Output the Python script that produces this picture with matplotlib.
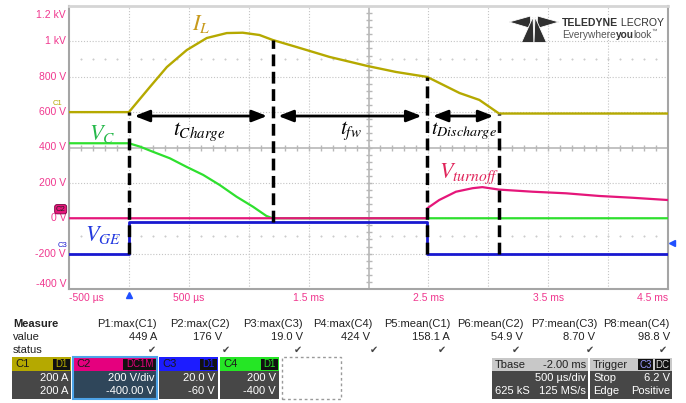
import numpy as np
import matplotlib.pyplot as plt
from matplotlib.patches import Rectangle, Polygon

plt.rcParams['font.family'] = ['Liberation Sans', 'DejaVu Sans']
plt.rcParams['mathtext.fontset'] = 'stix'

W, H = 686, 403

# time in ms, screen units are 200 per division
t_il = [-0.5, 0.0, 0.175, 0.317, 0.483, 0.65, 0.817, 0.95, 1.09, 1.2, 1.4, 1.675,
        1.99, 2.23, 2.49, 2.76, 2.925, 3.09, 4.5]
il_amps = [0, 0, 142, 255, 351, 419, 447, 449, 436, 408, 368, 312,
           261, 227, 199, 108, 69, -8, -8]
IL_ZERO = 600  # C1 offset on screen

t_vc = [-0.5, 0.0, 0.092, 0.2, 0.342, 0.48, 0.62, 0.758, 0.898, 1.036, 1.148, 1.2, 4.5]
vc = [424, 424, 405, 376, 339, 291, 245, 188, 122, 65, 13, 0, 0]

t_vt = [-0.5, 2.49, 2.49, 2.59, 2.73, 2.87, 2.95, 3.09, 3.37, 3.65, 3.925, 4.2, 4.5]
vt = [0, 0, 56, 103, 150, 170, 176, 162, 150, 141, 126, 116, 103]

t_vge = [-0.5, 0.0, 0.0, 2.49, 2.49, 4.5]
vge = [-200, -200, -20, -20, -200, -200]

t_marks = [0.0, 1.2, 2.49, 3.09]
arrow_level = 578
trig_level = -140

y_ticks = [1200, 1000, 800, 600, 400, 200, 0, -200, -400]
y_labels = ['1.2 kV', '1 kV', '800 V', '600 V', '400 V', '200 V', '0 V', '-200 V', '-400 V']
x_ticks = [-0.5, 0.5, 1.5, 2.5, 3.5, 4.5]
x_labels = ['-500 µs', '500 µs', '1.5 ms', '2.5 ms', '3.5 ms', '4.5 ms']

meas_names = ['P1:max(C1)', 'P2:max(C2)', 'P3:max(C3)', 'P4:max(C4)',
              'P5:mean(C1)', 'P6:mean(C2)', 'P7:mean(C3)', 'P8:mean(C4)']
meas_values = ['449 A', '176 V', '19.0 V', '424 V', '158.1 A', '54.9 V', '8.70 V', '98.8 V']

GOLD = '#b5a900'
MAG = '#e5167a'
BLUE = '#1818d0'
GREEN = '#2ee02e'
PINK = '#f0388f'

fig = plt.figure(figsize=(W / 100, H / 100), dpi=100)
ax = fig.add_axes([69 / W, 1 - 289 / H, 599 / W, 283 / H])
ax.set_xlim(-0.5, 4.5)
ax.set_ylim(-400, 1200)
ax.set_xticks([])
ax.set_yticks([])
for s in ['left', 'right', 'bottom']:
    ax.spines[s].set_color('#a5a5a5')
    ax.spines[s].set_linewidth(1.5)
ax.spines['top'].set_color('#d5d5d5')
ax.spines['top'].set_linewidth(2)

# scope graticule
dot = (0, (1, 1.6))
for xv in np.arange(0.0, 4.5, 0.5):
    if abs(xv - 2.0) > 1e-6:
        ax.axvline(xv, color='#c4c4c4', lw=0.8, ls=dot, zorder=1)
for yv in range(-200, 1200, 200):
    if yv != 400:
        ax.axhline(yv, color='#c4c4c4', lw=0.8, ls=dot, zorder=1)
ax.axvline(2.0, color='#b8b8b8', lw=1.2, zorder=1)
ax.axhline(400, color='#b8b8b8', lw=1.2, zorder=1)
ax.plot(np.arange(-0.5, 4.55, 0.1), np.full(51, 400), ls='none', marker='|',
        ms=4, mew=1, color='#b8b8b8', zorder=1)
ax.plot(np.full(41, 2.0), np.arange(-400, 1201, 40), ls='none', marker='_',
        ms=4, mew=1, color='#b8b8b8', zorder=1)
for yv in [900, -100]:
    ax.plot(np.arange(-0.4, 4.45, 0.1), np.full(49, yv), ls='none', marker='s',
            ms=0.5, color='#cccccc', zorder=1)

# traces
il_screen = np.array(il_amps) + IL_ZERO
ax.plot(t_vc, vc, color=GREEN, lw=1.6, zorder=3)
ax.plot(t_vt, vt, color=MAG, lw=1.6, zorder=4)
ax.plot(t_vge, vge, color=BLUE, lw=2.0, zorder=4)
ax.plot(t_il, il_screen, color=GOLD, lw=1.7, zorder=3)

# interval markers
for tm in t_marks:
    top = np.interp(tm, t_il, il_screen)
    bot = vge[0] if tm == 0.0 else np.interp(tm + 1e-6, t_vge, vge)
    ax.plot([tm, tm], [bot, top], color='k', lw=2.5, ls=(0, (3.4, 1.6)), zorder=6)
for a, b in zip(t_marks[:-1], t_marks[1:]):
    ax.annotate('', xy=(b, arrow_level), xytext=(a, arrow_level),
                arrowprops=dict(arrowstyle='<|-|>,head_length=0.9,head_width=0.35',
                                color='k', lw=2, shrinkA=4, shrinkB=4), zorder=6)

ax.text(0.6, 1098, r'$I_L$', color='#c89a1c', fontsize=16, ha='center', va='center')
ax.text(0.59, 488, r'$t_{Charge}$', color='k', fontsize=15.5, ha='center', va='center')
ax.text(1.85, 493, r'$t_{fw}$', color='k', fontsize=15.5, ha='center', va='center')
ax.text(2.8, 493, r'$t_{Discharge}$', color='k', fontsize=14.5, ha='center', va='center')
ax.text(-0.225, 476, r'$V_C$', color='#25b84a', fontsize=16, ha='center', va='center')
ax.text(-0.217, -95, r'$V_{GE}$', color='#2238e0', fontsize=16, ha='center', va='center')
ax.text(2.84, 250, r'$V_{turnoff}$', color='#e0245a', fontsize=16, ha='center', va='center')

# axis labels
ytr = ax.get_yaxis_transform()
for v, lab in zip(y_ticks, y_labels):
    va = 'top' if v == 1200 else ('bottom' if v == -400 else 'center')
    yy = v - 25 if v == 1200 else v
    ax.text(-0.005, yy, lab, transform=ytr, ha='right', va=va, color=PINK, fontsize=7.5)
xtr = ax.get_xaxis_transform()
for v, lab in zip(x_ticks, x_labels):
    ha = 'left' if v == -0.5 else ('right' if v == 4.5 else 'center')
    ax.text(v, -0.032, lab, transform=xtr, ha=ha, va='center', color=PINK, fontsize=7.5)

# channel tags and trigger markers
ax.annotate('C1', xy=(0, IL_ZERO), xycoords=('axes fraction', 'data'),
            xytext=(-8, 6.5), textcoords='offset points', color=GOLD, fontsize=5.5,
            ha='center', va='center', annotation_clip=False)
ax.annotate('C2', xy=(0, 0), xycoords=('axes fraction', 'data'),
            xytext=(-6, 6.5), textcoords='offset points', color='#222', fontsize=5.5,
            ha='center', va='center', annotation_clip=False,
            bbox=dict(boxstyle='round,pad=0.15,rounding_size=0.3', fc=MAG, ec='#7a0040', lw=0.6))
ax.annotate('C3', xy=(0, -200), xycoords=('axes fraction', 'data'),
            xytext=(-5, 5.5), textcoords='offset points', color=BLUE, fontsize=5.5,
            ha='center', va='center', annotation_clip=False)
ax.plot([1.006], [trig_level], marker='<', ms=5, color='#2050ff',
        transform=ytr, clip_on=False)
ax.plot([0.0], [-0.02], marker='^', ms=5, color='#2050ff', transform=xtr, clip_on=False)


def px(x, y):
    return x / W, 1 - y / H


def rect(x0, y0, x1, y1, fc, **kw):
    fig.patches.append(Rectangle(px(x0, y1), (x1 - x0) / W, (y1 - y0) / H,
                                 transform=fig.transFigure, facecolor=fc, **kw))


def ftext(x, y, s, **kw):
    kw.setdefault('va', 'center')
    kw.setdefault('fontsize', 8)
    return fig.text(*px(x, y), s, **kw)


# logo
logo = [
    [(509, 22), (530.5, 16), (531, 28.5)],
    [(559, 22), (537.5, 16), (537, 28.5)],
    [(533, 17), (534, 42.5), (521.5, 42.5)],
    [(535, 17), (546.5, 42.5), (534, 42.5)],
]
for poly in logo:
    fig.patches.append(Polygon([px(x, y) for x, y in poly], closed=True,
                               transform=fig.transFigure, fc='#303030', ec='white', lw=0.6))
t1 = ftext(562, 26, 'TELEDYNE', fontsize=7.6, weight='bold', color='#333', va='baseline')
ax.annotate(' LECROY', xy=(1, 0), xycoords=t1, fontsize=7.6, color='#333', va='bottom')
e1 = ftext(562, 38, 'Everywhere', fontsize=7.3, color='#555', va='baseline')
e2 = ax.annotate('you', xy=(1, 0), xycoords=e1, fontsize=7.3, weight='bold',
                 color='#333', va='bottom')
e3 = ax.annotate('look', xy=(0.97, 0), xycoords=e2, fontsize=7.3, color='#555', va='bottom')
ax.annotate('™', xy=(1, 0.6), xycoords=e3, fontsize=4, color='#555', va='bottom')

# measurement table
ftext(13, 324, 'Measure', weight='bold', color='#222')
ftext(13, 337, 'value', color='#222')
ftext(13, 350, 'status', color='#222')
head_right = [157, 230, 303, 373, 450, 524, 597, 670]
val_right = [157, 222, 303, 370, 450, 523, 595, 670]
check_x = [152, 226, 298, 374, 442, 516, 590, 663]
for name, val, hx, vx, cx in zip(meas_names, meas_values, head_right, val_right, check_x):
    ftext(hx, 324, name, ha='right', color='#222')
    ftext(vx, 337, val, ha='right', color='#222')
    ftext(cx, 350, '✔', ha='center', color='#444', fontsize=7, family=['DejaVu Sans'])

# channel descriptors
channels = [
    ('C1', 'D1', GOLD, 12, 71, '200 A', '200 A', '#474747'),
    ('C2', 'DC1M', '#e5007e', 73, 157, '200 V/div', '-400.00 V', '#2f465a'),
    ('C3', 'D1', '#1c1cff', 159, 218, '20.0 V', '-60 V', '#474747'),
    ('C4', 'D1', '#25e625', 220, 279, '200 V', '-400 V', '#474747'),
]
for name, tag, col, x0, x1, l1, l2, body in channels:
    rect(x0, 357, x1, 371, col)
    rect(x0, 371, x1, 399, body)
    ftext(x0 + 3, 364, name, color='#1a1a1a')
    tw = 33 if len(tag) > 2 else 17
    rect(x1 - tw - 1, 358.5, x1 - 1, 369.5, '#111111')
    ftext(x1 - 1 - tw / 2, 364, tag, ha='center', color=col, fontsize=7)
    ftext(x1 - 3, 378, l1, ha='right', color='white')
    ftext(x1 - 3, 391, l2, ha='right', color='white')
rect(73, 357, 157, 399, 'none', edgecolor='#4da3e8', linewidth=1.5)
rect(282, 357, 341, 399, 'none', edgecolor='#9a9a9a', linewidth=1, linestyle=(0, (2, 2)))

# timebase and trigger
rect(492, 358, 588, 371, '#c8c8c8')
rect(492, 371, 588, 399, '#474747')
ftext(495, 364.5, 'Tbase', color='#222')
ftext(586, 364.5, '-2.00 ms', ha='right', color='#222')
ftext(586, 378, '500 µs/div', ha='right', color='white')
ftext(495, 391, '625 kS', color='white')
ftext(586, 391, '125 MS/s', ha='right', color='white')
rect(590, 358, 672, 371, '#c8c8c8')
rect(590, 371, 672, 399, '#474747')
ftext(593, 364.5, 'Trigger', color='#222')
rect(638, 359, 653, 370, '#111111')
ftext(645.5, 364.5, 'C3', ha='center', color='#9a9aff', fontsize=7)
rect(655, 359, 670, 370, '#111111')
ftext(662.5, 364.5, 'DC', ha='center', color='#dddddd', fontsize=7)
ftext(593, 378, 'Stop', color='white')
ftext(670, 378, '6.2 V', ha='right', color='white')
ftext(593, 391, 'Edge', color='white')
ftext(670, 391, 'Positive', ha='right', color='white')

fig.savefig('out.png', dpi=100)
